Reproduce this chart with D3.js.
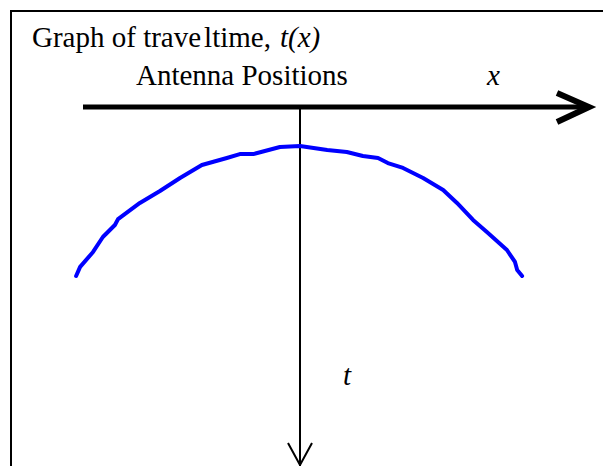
<!DOCTYPE html>
<html>
<head>
<meta charset="utf-8">
<script src="https://cdn.jsdelivr.net/npm/d3@7"></script>
<style>
  body { margin: 0; background: #fff; }
  svg { display: block; }
</style>
</head>
<body>
<div id="chart"></div>
<script>
// ------------------- //
// DATA
// ------------------- //

// antenna position (x) and travel time (t) along the hand drawn curve
var antennaPos = [-5.02, -4.93, -4.64, -4.42, -4.15, -4.08, -3.59, -3.14, -2.69, -2.20,
                  -1.64, -1.35, -1.05, -0.45, 0, 0.61, 1.05, 1.41, 1.75, 1.97,
                  2.31, 2.76, 3.21, 3.52, 3.88, 4.19, 4.64, 4.82, 4.87, 4.98]
var travelTime = [13.0, 12.3, 11.15, 10.0, 9.08, 8.62, 7.38, 6.46, 5.46, 4.46,
                  3.92, 3.62, 3.62, 3.08, 3.0, 3.31, 3.46, 3.77, 3.92, 4.31,
                  4.69, 5.46, 6.38, 7.38, 8.69, 9.62, 11.0, 11.92, 12.54, 13.0]

// title pieces (the original has a small gap inside "traveltime")
var titleParts = ["Graph of trave", "ltime,"]
var titleVar = "t(x)"
var xAxisLabel = "Antenna Positions"
var xVar = "x"
var tVar = "t"

var serif = "'Liberation Serif', 'Times New Roman', 'DejaVu Serif', serif"

// ------------------- //
// SETUP
// ------------------- //

var width = 603,
    height = 466,
    axisY = 107,     // horizontal axis
    originX = 300,   // vertical axis
    fontSize = "29px"

var svg = d3.select("#chart")
  .append("svg")
    .attr("width", width)
    .attr("height", height)

// frame (runs off the right and bottom)
svg.append("rect")
    .attr("x", 11)
    .attr("y", 11)
    .attr("width", 620)
    .attr("height", 500)
    .attr("fill", "none")
    .attr("stroke", "#000")
    .attr("stroke-width", 2)

// scales
var x = d3.scaleLinear()
    .domain([-5, 5])
    .range([originX - 223, originX + 223])

var t = d3.scaleLinear()
    .domain([0, 27])
    .range([axisY, axisY + 351])

// ------------------- //
// AXES
// ------------------- //

// horizontal axis with chevron head
svg.append("line")
    .attr("x1", 83).attr("x2", 587)
    .attr("y1", axisY).attr("y2", axisY)
    .attr("stroke", "#000")
    .attr("stroke-width", 5)

svg.append("path")
    .attr("d", "M557,93 L589,107 L557,122")
    .attr("fill", "none")
    .attr("stroke", "#000")
    .attr("stroke-width", 6)
    .attr("stroke-linejoin", "miter")

// vertical axis with open V head
svg.append("line")
    .attr("x1", x(0)).attr("x2", x(0))
    .attr("y1", axisY).attr("y2", 466)
    .attr("stroke", "#000")
    .attr("stroke-width", 2)

svg.append("path")
    .attr("d", "M" + (x(0) - 12) + ",443 L" + x(0) + ",465 L" + (x(0) + 12) + ",443")
    .attr("fill", "none")
    .attr("stroke", "#000")
    .attr("stroke-width", 2)

// ------------------- //
// CURVE
// ------------------- //

var pts = antennaPos.map(function(d, i) { return [d, travelTime[i]] })

svg.append("path")
    .datum(pts)
    .attr("fill", "none")
    .attr("stroke", "#0000ff")
    .attr("stroke-width", 4)
    .attr("stroke-linejoin", "round")
    .attr("stroke-linecap", "round")
    .attr("d", d3.line()
      .x(function(d) { return x(d[0]) })
      .y(function(d) { return t(d[1]) }))

// ------------------- //
// TEXT
// ------------------- //

var title = svg.append("text")
    .attr("x", 32)
    .attr("y", 47)
    .style("font-family", serif)
    .style("font-size", fontSize)
title.append("tspan").text(titleParts[0])
title.append("tspan").attr("dx", 3).text(titleParts[1])
title.append("tspan").attr("x", 280).text(titleVar).style("font-style", "italic")

svg.append("text")
    .attr("x", 136)
    .attr("y", 85)
    .style("font-family", serif)
    .style("font-size", fontSize)
    .text(xAxisLabel)

svg.append("text")
    .attr("x", 487)
    .attr("y", 85)
    .style("font-family", serif)
    .style("font-size", fontSize)
    .style("font-style", "italic")
    .text(xVar)

svg.append("text")
    .attr("x", 343)
    .attr("y", 385)
    .style("font-family", serif)
    .style("font-size", fontSize)
    .style("font-style", "italic")
    .text(tVar)
</script>
</body>
</html>
